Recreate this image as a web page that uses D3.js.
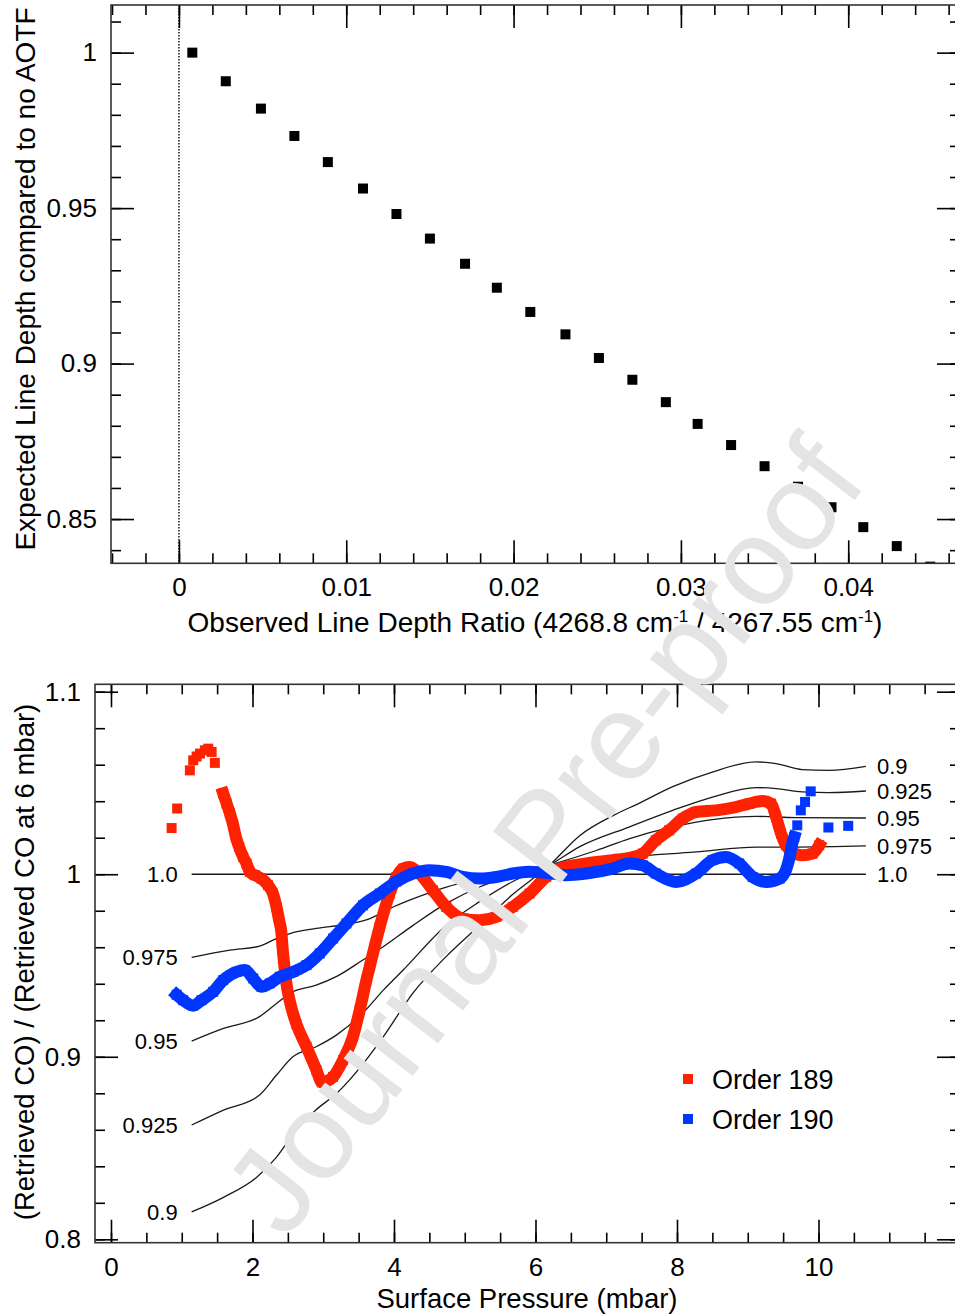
<!DOCTYPE html>
<html><head><meta charset="utf-8">
<script src="https://cdn.jsdelivr.net/npm/d3@7"></script>
<style>
html,body{margin:0;padding:0;background:#fff;}
svg{display:block;font-family:"Liberation Sans",Arial,Helvetica,sans-serif;}
</style></head><body>
<svg id="chart" width="955" height="1316"></svg>
<script>
// ---------- Top panel data ----------
const ratioX = [0.0008,0.0028,0.0049,0.0069,0.0089,0.0110,0.0130,0.0150,0.0171,0.0190,0.0210,0.0231,0.0251,0.0271,0.0291,0.0310,0.0330,0.0350,0.0370,0.0390,0.0409,0.0429,0.0449];
const depthY = [1.000,0.9908,0.9820,0.9732,0.9648,0.9563,0.9481,0.9402,0.9321,0.9244,0.9166,0.9094,0.9018,0.8948,0.8876,0.8806,0.8738,0.8670,0.8604,0.8538,0.8474,0.8413,0.8347];
const topXMajor = [0,0.01,0.02,0.03,0.04];
const topXLabels = ["0","0.01","0.02","0.03","0.04"];
const topXMinor = d3.range(-4,47,2).map(v=>v/1000);
const topYMajor = [0.85,0.9,0.95,1];
const topYLabels = ["0.85","0.9","0.95","1"];
const topYMinor = d3.range(84,102).map(v=>v/100);

// ---------- Bottom panel data ----------
const botXMajor = [0,2,4,6,8,10];
const botXLabels = ["0","2","4","6","8","10"];
const botXMinor = d3.range(0,24).map(v=>v/2);
const botYMajor = [0.8,0.9,1.0,1.1];
const botYLabels = ["0.8","0.9","1","1.1"];
const botYMinor = d3.range(40,56).map(v=>v/50);

const contour090 = [[1.14,0.815],[1.59,0.823],[2.06,0.834],[2.34,0.845],[2.62,0.860],[2.90,0.871],[3.19,0.880],[3.56,0.896],[3.85,0.911],[4.27,0.935],[4.74,0.955],[5.21,0.972],[5.68,0.989],[6.20,1.005],[6.62,1.021],[7.09,1.032],[7.47,1.039],[7.94,1.048],[8.50,1.056],[9.12,1.0615],[9.40,1.0606],[9.77,1.0573],[10.15,1.0569],[10.67,1.0591]];
const contour0925 = [[1.14,0.8626],[1.59,0.8708],[2.10,0.879],[2.34,0.890],[2.57,0.900],[2.90,0.9055],[3.19,0.912],[3.56,0.924],[3.85,0.9365],[4.13,0.9475],[4.74,0.972],[5.21,0.985],[5.68,0.996],[6.20,1.005],[6.62,1.015],[7.33,1.026],[7.94,1.035],[8.50,1.0423],[9.12,1.0475],[9.40,1.0469],[9.77,1.0451],[10.15,1.0447],[10.67,1.0456]];
const contour095 = [[1.14,0.9086],[1.59,0.9155],[2.10,0.922],[2.34,0.9292],[2.57,0.9356],[2.90,0.9392],[3.19,0.944],[3.56,0.953],[3.80,0.959],[4.27,0.972],[4.74,0.984],[5.21,0.993],[5.68,0.9995],[6.20,1.005],[6.86,1.013],[7.33,1.0195],[7.94,1.0259],[8.50,1.0299],[9.12,1.0317],[9.68,1.031],[10.67,1.0308]];
const contour0975 = [[1.14,0.9544],[1.68,0.9584],[2.10,0.9606],[2.29,0.9639],[2.53,0.9675],[2.90,0.9703],[3.33,0.9726],[3.66,0.9757],[3.94,0.9812],[4.22,0.9858],[4.74,0.993],[5.21,0.9976],[5.68,1.0015],[6.20,1.005],[7.33,1.0095],[8.27,1.0122],[9.12,1.0149],[9.68,1.0149],[10.67,1.0155]];
const contour100 = [[1.14,1.0],[10.67,1.0]];
const contourLabels = ["0.9","0.925","0.95","0.975","1.0"];

const order189Sparse = [[0.857,1.0253],[0.935,1.0360],[1.115,1.0569],[1.162,1.0624],[1.210,1.0645],[1.257,1.0661],[1.327,1.0679],[1.374,1.0688],[1.422,1.0670],[1.468,1.0610]];
const order189Dense = [[1.586,1.0443],[1.634,1.0388],[1.68,1.0334],[1.727,1.0270],[1.765,1.0204],[1.811,1.0149],[1.868,1.0095],[1.915,1.0059],[1.962,1.0013],[2.033,0.9995],[2.127,0.9976],[2.22,0.9940],[2.29,0.9894],[2.339,0.9821],[2.376,0.9748],[2.41,0.9675],[2.424,0.9602],[2.442,0.9529],[2.48,0.940],[2.53,0.930],[2.62,0.918],[2.763,0.9055],[2.904,0.8927],[2.98,0.8860],[3.139,0.8890],[3.28,0.8982],[3.42,0.9110],[3.516,0.9256],[3.61,0.9420],[3.657,0.9493],[3.798,0.9712],[3.939,0.9894],[4.034,0.9985],[4.127,1.0031],[4.22,1.0040],[4.36,1.0004],[4.55,0.9912],[4.74,0.9821],[4.97,0.9757],[5.21,0.9748],[5.445,0.9766],[5.68,0.9821],[5.916,0.9894],[6.15,0.9985],[6.34,1.0031],[6.716,1.0059],[7.09,1.0077],[7.33,1.0090],[7.515,1.0113],[7.70,1.0186],[7.89,1.0241],[8.08,1.0305],[8.27,1.0341],[8.55,1.0350],[8.83,1.0368],[9.02,1.0387],[9.21,1.0401],[9.33,1.0387],[9.40,1.0314],[9.47,1.0223],[9.54,1.0159],[9.63,1.0122],[9.77,1.0104],[9.915,1.0113],[10.01,1.0159]];
const order190Dense = [[0.927,0.9340],[1.02,0.9310],[1.162,0.9280],[1.28,0.9310],[1.445,0.9356],[1.586,0.9420],[1.775,0.9465],[1.892,0.9475],[2.01,0.9429],[2.127,0.9383],[2.245,0.9402],[2.386,0.9438],[2.574,0.9465],[2.763,0.9502],[2.95,0.9566],[3.139,0.9648],[3.328,0.9730],[3.562,0.9830],[3.798,0.9894],[4.034,0.9960],[4.27,1.0004],[4.50,1.0022],[4.74,1.0013],[4.97,0.9985],[5.21,0.9976],[5.445,0.9985],[5.68,1.0004],[5.916,1.0013],[6.245,1.0004],[6.43,0.9995],[6.716,1.0004],[7.09,1.0031],[7.33,1.0059],[7.515,1.0049],[7.70,1.0004],[7.99,0.9958],[8.27,1.0004],[8.50,1.0077],[8.69,1.0095],[8.88,1.0059],[9.07,0.9985],[9.26,0.9958],[9.45,0.9976],[9.54,1.0022],[9.586,1.0086],[9.63,1.0168],[9.657,1.0204]];
const order190Sparse = [[9.70,1.0268],[9.75,1.035],[9.81,1.0396],[9.89,1.0454],[10.14,1.0256],[10.42,1.0265]];
const legendNames = ["Order 189","Order 190"];

// ---------- Drawing ----------
const RED = "#ff2200", BLUE = "#0036ff";
const svg = d3.select("#chart");
const FONT = '"Liberation Sans",Arial,Helvetica,sans-serif';

function styleAxis(g){
  g.select(".domain").remove();
  g.attr("font-family",FONT).attr("font-size",26);
  g.selectAll(".tick line").attr("stroke","#000").attr("stroke-width",1.6);
  g.selectAll(".tick text").attr("fill","#000");
}
function frame(g, x, y, o){
  const [x0,x1] = x.range(); const [y0,y1] = y.range();
  const MAJ = 23, MIN = 10;
  g.append("g").attr("transform",`translate(0,${y0})`).call(d3.axisBottom(x).tickValues(o.xMinor).tickSize(-MIN).tickFormat("")).call(styleAxis);
  g.append("g").attr("transform",`translate(0,${y0})`).call(d3.axisBottom(x).tickValues(o.xMajor).tickSize(-MAJ).tickPadding(14.5).tickFormat((d,i)=>o.xLabels[i])).call(styleAxis);
  g.append("g").attr("transform",`translate(0,${y1})`).call(d3.axisTop(x).tickValues(o.xMinor).tickSize(-MIN).tickFormat("")).call(styleAxis);
  g.append("g").attr("transform",`translate(0,${y1})`).call(d3.axisTop(x).tickValues(o.xMajor).tickSize(-MAJ).tickFormat("")).call(styleAxis);
  g.append("g").attr("transform",`translate(${x0},0)`).call(d3.axisLeft(y).tickValues(o.yMinor).tickSize(-MIN).tickFormat("")).call(styleAxis);
  g.append("g").attr("transform",`translate(${x0},0)`).call(d3.axisLeft(y).tickValues(o.yMajor).tickSize(-MAJ).tickPadding(14).tickFormat((d,i)=>o.yLabels[i])).call(styleAxis);
  g.append("g").attr("transform",`translate(${x1},0)`).call(d3.axisRight(y).tickValues(o.yMinor).tickSize(-MIN).tickFormat("")).call(styleAxis);
  g.append("g").attr("transform",`translate(${x1},0)`).call(d3.axisRight(y).tickValues(o.yMajor).tickSize(-MAJ).tickFormat("")).call(styleAxis);
  g.append("rect").attr("x",x0).attr("y",y1).attr("width",x1-x0).attr("height",y0-y1)
    .attr("fill","none").attr("stroke","#333").attr("stroke-width",1.6);
}

// ---- Top panel ----
const tx = d3.scaleLinear().domain([-0.00406,0.04668]).range([111,960]);
const ty = d3.scaleLinear().domain([0.83577,1.01532]).range([563.3,5]);
const gTop = svg.append("g");
svg.append("clipPath").attr("id","clipTop").append("rect")
  .attr("x",111).attr("y",5).attr("width",849).attr("height",558.3);
gTop.append("line").attr("x1",tx(0)).attr("x2",tx(0)).attr("y1",ty.range()[1]).attr("y2",ty.range()[0])
  .attr("stroke","#000").attr("stroke-width",1.4).attr("stroke-dasharray","1.5,1.5");
gTop.append("g").attr("clip-path","url(#clipTop)").selectAll("rect").data(ratioX.map((d,i)=>[d,depthY[i]]))
  .join("rect").attr("x",d=>tx(d[0])-5).attr("y",d=>ty(d[1])-5).attr("width",10).attr("height",10).attr("fill","#000");
frame(gTop, tx, ty, {xMinor:topXMinor,xMajor:topXMajor,xLabels:topXLabels,yMinor:topYMinor,yMajor:topYMajor,yLabels:topYLabels});

const xt = svg.append("text").attr("x",535).attr("y",632).attr("text-anchor","middle").attr("font-size",28).attr("fill","#000");
xt.append("tspan").text("Observed Line Depth Ratio (4268.8 cm");
xt.append("tspan").attr("dy",-10).attr("font-size",17).text("-1");
xt.append("tspan").attr("dy",10).text(" / 4267.55 cm");
xt.append("tspan").attr("dy",-10).attr("font-size",17).text("-1");
xt.append("tspan").attr("dy",10).text(")");
svg.append("text").attr("transform","translate(35,279) rotate(-90)").attr("text-anchor","middle")
  .attr("font-size",28).attr("fill","#000").text("Expected Line Depth compared to no AOTF");

// ---- Bottom panel ----
const bx = d3.scaleLinear().domain([-0.226,12]).range([95,960]);
const by = d3.scaleLinear().domain([0.79814,1.10405]).range([1242.7,684.3]);
const gBot = svg.append("g");
const contours = [contour090,contour0925,contour095,contour0975,contour100];
const cline = d3.line().x(d=>bx(d[0])).y(d=>by(d[1])).curve(d3.curveMonotoneX);
gBot.selectAll("path.contour").data(contours).join("path").attr("class","contour")
  .attr("d",cline).attr("fill","none").attr("stroke","#1a1a1a").attr("stroke-width",1.3);
gBot.selectAll("text.lleft").data(contours).join("text").attr("class","lleft")
  .attr("x",d=>bx(d[0][0])-14).attr("y",d=>by(d[0][1])).attr("dy","0.36em").attr("text-anchor","end")
  .attr("font-size",22).attr("fill","#000").text((d,i)=>contourLabels[i]);
gBot.selectAll("text.lright").data(contours).join("text").attr("class","lright")
  .attr("x",d=>bx(d[d.length-1][0])+11).attr("y",d=>by(d[d.length-1][1])).attr("dy","0.36em").attr("text-anchor","start")
  .attr("font-size",22).attr("fill","#000").text((d,i)=>contourLabels[i]);

const sline = d3.line().x(d=>bx(d[0])).y(d=>by(d[1])).curve(d3.curveMonotoneX);
function series(dense, sparse, color){
  gBot.append("path").attr("d",sline(dense)).attr("fill","none").attr("stroke",color)
    .attr("stroke-width",12).attr("stroke-linecap","square").attr("stroke-linejoin","round");
  gBot.append("g").selectAll("rect").data(dense.concat(sparse)).join("rect")
    .attr("x",d=>bx(d[0])-5).attr("y",d=>by(d[1])-5).attr("width",10).attr("height",10).attr("fill",color);
}
series(order189Dense, order189Sparse, RED);
series(order190Dense, order190Sparse, BLUE);

frame(gBot, bx, by, {xMinor:botXMinor,xMajor:botXMajor,xLabels:botXLabels,yMinor:botYMinor,yMajor:botYMajor,yLabels:botYLabels});

// legend
const lg = svg.append("g").attr("transform","translate(688,1079)");
[RED,BLUE].forEach((c,i)=>{
  lg.append("rect").attr("x",-5).attr("y",i*40-5).attr("width",10).attr("height",10).attr("fill",c);
  lg.append("text").attr("x",24).attr("y",i*40).attr("dy","0.37em").attr("font-size",27).attr("fill","#000").text(legendNames[i]);
});

svg.append("text").attr("x",527).attr("y",1308).attr("text-anchor","middle").attr("font-size",27.5).attr("fill","#000").text("Surface Pressure (mbar)");
svg.append("text").attr("transform","translate(34,962) rotate(-90)").attr("text-anchor","middle")
  .attr("font-size",27.5).attr("fill","#000").text("(Retrieved CO) / (Retrieved CO at 6 mbar)");

// watermark
svg.append("text").attr("transform","translate(543,835) rotate(-52.5)").attr("text-anchor","middle")
  .attr("dy","0.35em").attr("font-size",124).attr("fill","#e4e4e4").text("Journal Pre-proof");
</script>
</body></html>
